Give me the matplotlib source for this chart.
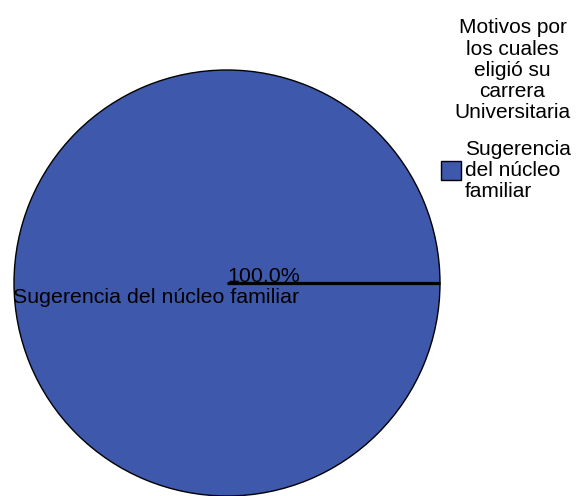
import matplotlib
matplotlib.use("Agg")
import matplotlib.pyplot as plt

categories = ["Sugerencia del núcleo familiar"]
values = [100.0]
legend_title = "Motivos por\nlos cuales\neligió su\ncarrera\nUniversitaria"
legend_labels = ["Sugerencia\ndel núcleo\nfamiliar"]
colors = ["#3e58ac"]

plt.rcParams['font.family'] = ['Liberation Sans', 'DejaVu Sans']
FS = 15

fig = plt.figure(figsize=(5.79, 4.96), dpi=100)
ax = fig.add_axes([0, 0, 1, 1])

cx, cy, r = 227, 283, 213
wedges, _ = ax.pie(values, center=(cx, cy), radius=r, colors=colors,
                   startangle=0, frame=True,
                   wedgeprops=dict(edgecolor='black', linewidth=1.0))
ax.set_xlim(0, 579)
ax.set_ylim(496, 0)
ax.set_aspect('equal')
ax.axis('off')

w = wedges[0]
# radial separator line at the start of the slice
ax.plot([w.center[0], w.center[0] + w.r], [w.center[1], w.center[1]],
        color='black', lw=2.3, solid_capstyle='butt')

ax.text(264, 282, f"{values[0]:.1f}%", ha='center', va='baseline', fontsize=15.4)
ax.text(cx - r - 1, 303, categories[0], ha='left', va='baseline', fontsize=15.4)

leg = fig.legend(wedges, legend_labels, title=legend_title,
                 loc='upper right', bbox_to_anchor=(581 / 579, 1 - 8 / 496),
                 frameon=False, fontsize=FS, title_fontsize=FS,
                 handlelength=0.92, handleheight=1.05, handletextpad=0.2,
                 borderpad=0, labelspacing=0.85, alignment='right')
leg.get_title().set_linespacing(1.14)
leg.get_title().set_multialignment('center')
for t in leg.get_texts():
    t.set_linespacing(1.14)

fig.savefig("out.png", dpi=100)
